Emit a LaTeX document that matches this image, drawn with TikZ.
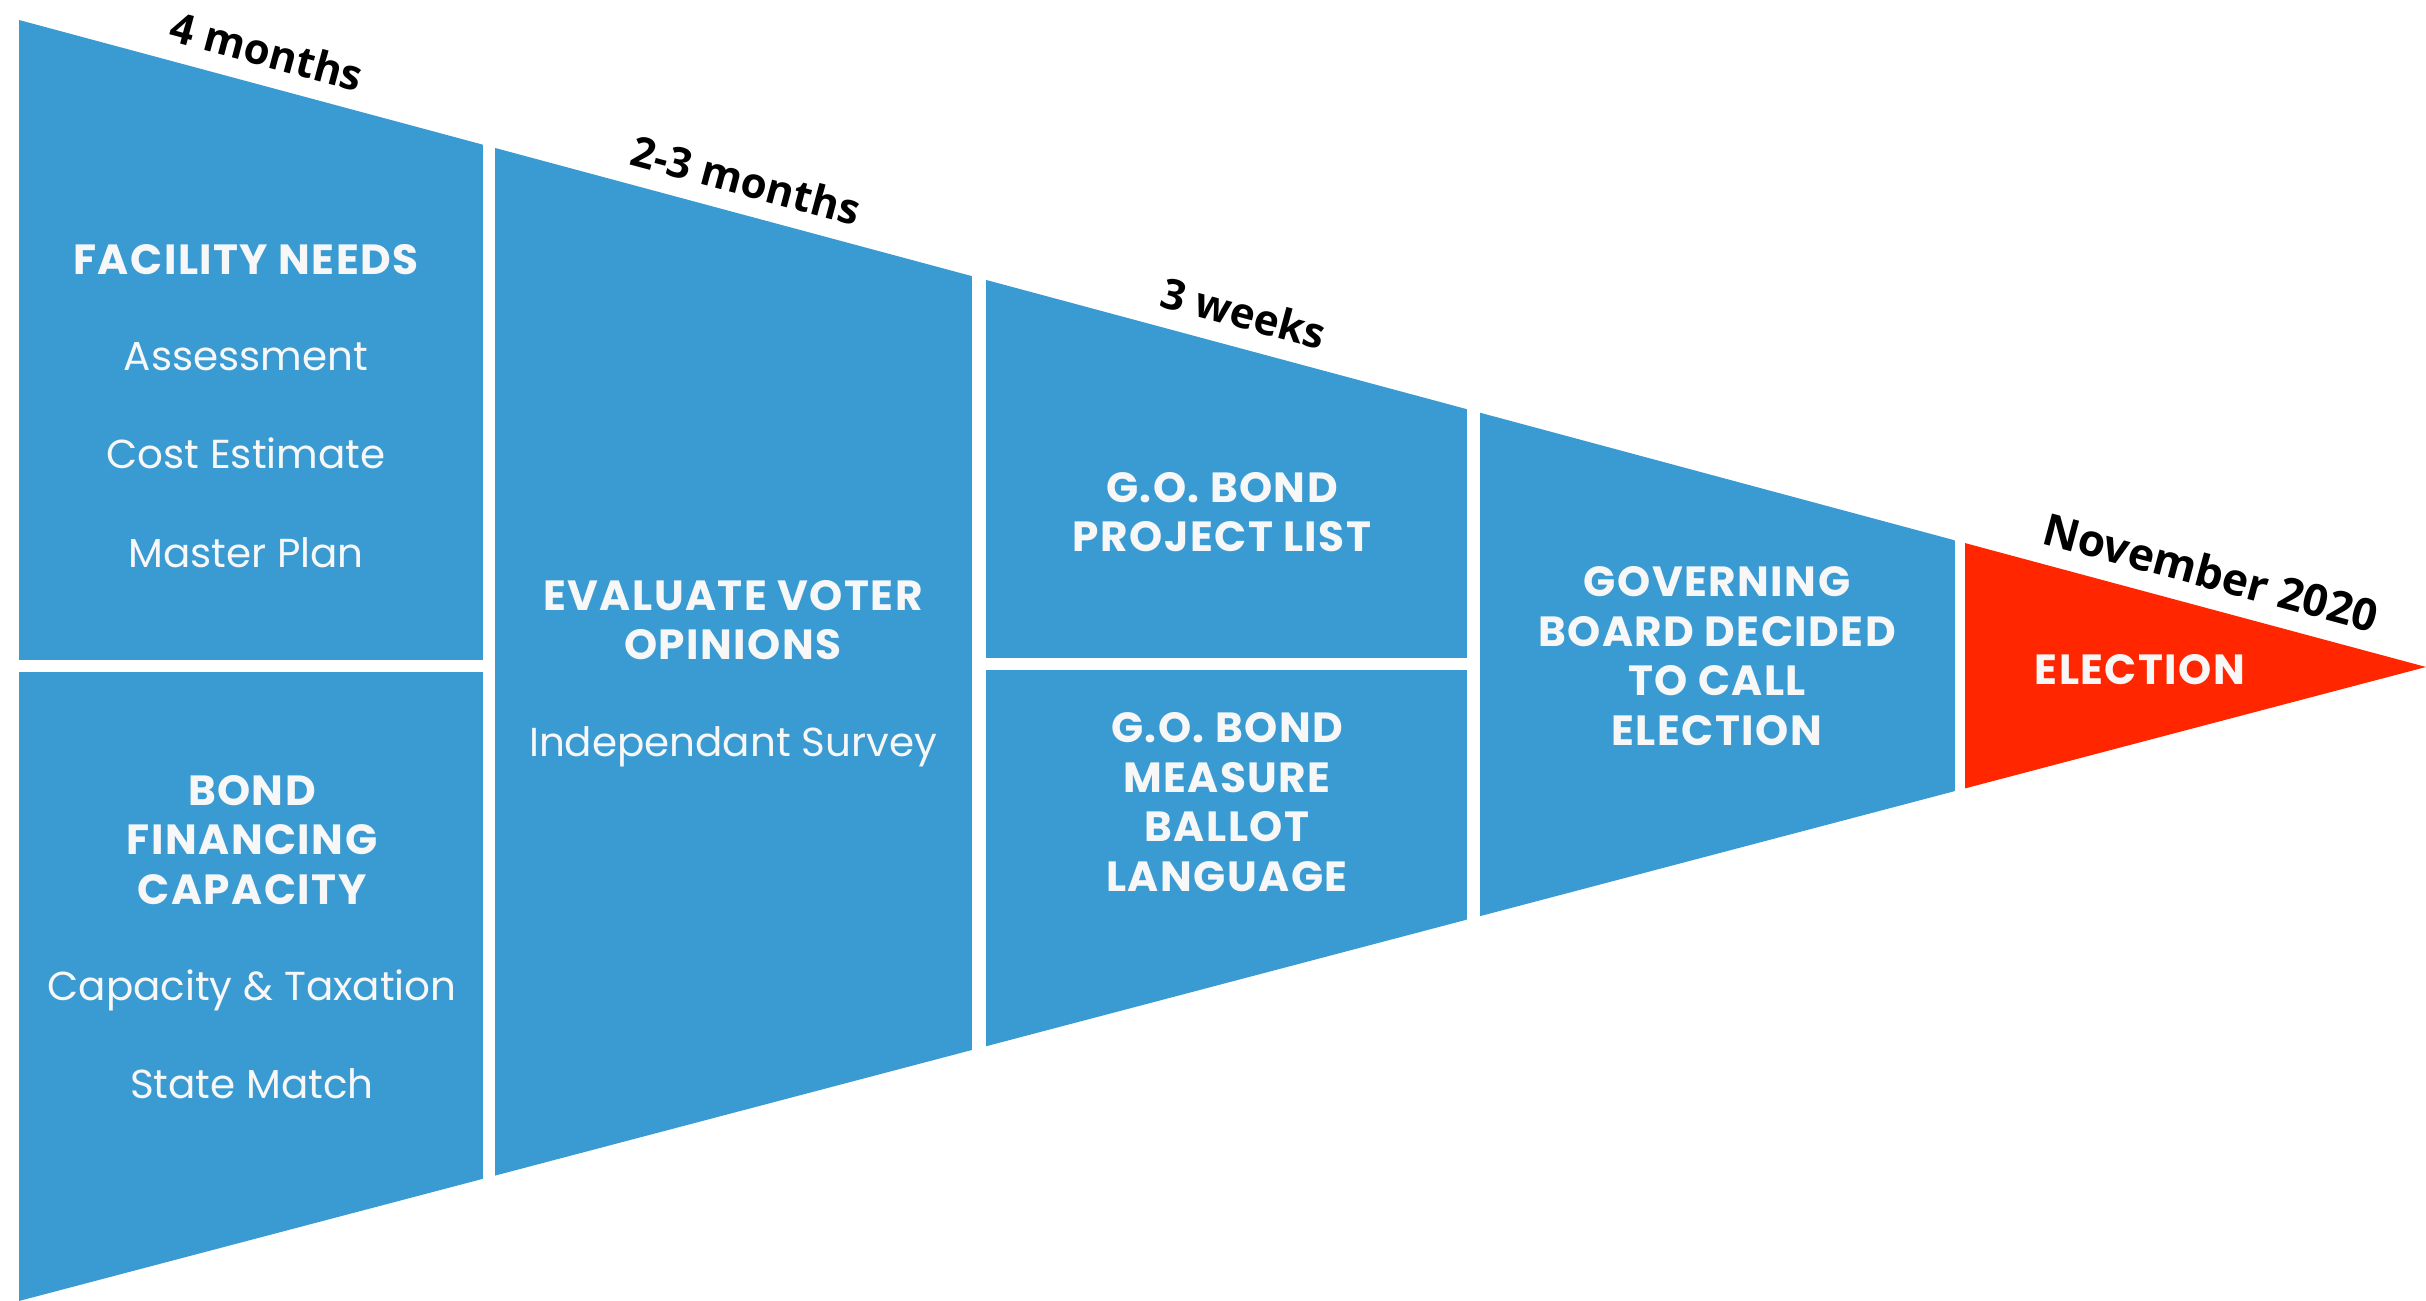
\documentclass[tikz,border=0pt]{standalone}
\usepackage{fontspec}
\setmainfont{Poppins}
\newfontfamily\headfont{Poppins}[LetterSpace=3.5]
\newfontfamily\durfont{Open Sans}
\usepackage{xcolor}
\definecolor{funnelblue}{HTML}{3A9BD2}
\definecolor{electred}{HTML}{FF2600}
\definecolor{paper}{HTML}{F7F7F7}
\tikzset{
	head/.style={text=paper,align=center,inner sep=0pt,font=\headfont\bfseries\fontsize{12}{14.1}\selectfont},
	item/.style={text=paper,anchor=base,inner sep=0pt,font=\fontsize{11.5}{14}\selectfont},
	dur/.style={rotate=-15,inner sep=0pt,font=\durfont\bfseries\fontsize{12}{14}\selectfont},
}

\begin{document}
\begin{tikzpicture}[x=0.01cm,y=-0.01cm]
	\useasboundingbox (0,0) rectangle (2426,1301);
	\coordinate (tl) at (19,20);
	\coordinate (bl) at (19,1301);
	\coordinate (tip) at (2426,667);
	\begin{scope}
		\clip (tl) -- (tip) -- (bl) -- cycle;
		\fill[funnelblue] (19,0) rectangle (483,660);
		\fill[funnelblue] (19,672) rectangle (483,1301);
		\fill[funnelblue] (495,0) rectangle (972,1301);
		\fill[funnelblue] (986,0) rectangle (1467,658);
		\fill[funnelblue] (986,670) rectangle (1467,1301);
		\fill[funnelblue] (1480,0) rectangle (1955,1301);
		\fill[electred] (1965,0) rectangle (2426,1301);
	\end{scope}
	% durations
	\node[dur] (m4) at (267,51) {4 months};
	\node[dur] (m23) at (746,180) {2-3 months};
	\node[dur] (w3) at (1244,313) {3 weeks};
	\node[dur,font=\durfont\bfseries\fontsize{12.6}{14}\selectfont] (nov) at (2211,572) {November 2020};
	% steps
	\node[head] (needs) at (246,260) {FACILITY NEEDS};
	\node[item] (assess) at (246,371) {Assessment};
	\node[item] (cost) at (246,469) {Cost Estimate};
	\node[item] (plan) at (246,568) {Master Plan};
	\node[head] (bond) at (252,840) {BOND\\FINANCING\\CAPACITY};
	\node[item] (tax) at (252,1001) {Capacity \& Taxation};
	\node[item] (match) at (252,1099) {State Match};
	\node[head] (voter) at (733,620) {EVALUATE VOTER\\OPINIONS};
	\node[item] (survey) at (733,757) {Independant Survey};
	\node[head] (list) at (1222,512) {G.O. BOND\\PROJECT LIST};
	\node[head] (ballot) at (1227,802) {G.O. BOND\\MEASURE\\BALLOT\\LANGUAGE};
	\node[head] (board) at (1717,656) {GOVERNING\\BOARD DECIDED\\TO CALL\\ELECTION};
	\node[head] (elect) at (2140,670) {ELECTION};
\end{tikzpicture}
\end{document}
